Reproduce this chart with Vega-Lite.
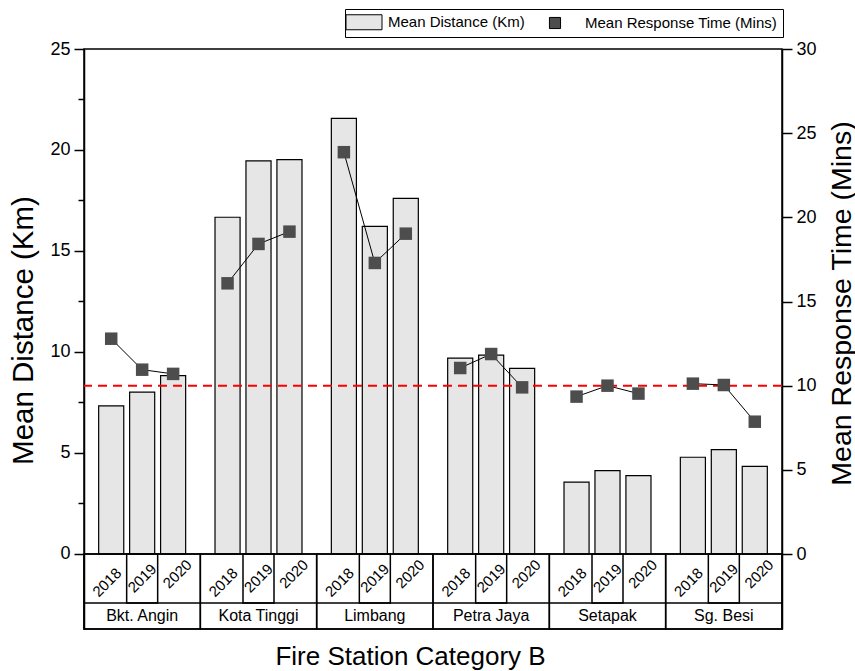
{
  "$schema": "https://vega.github.io/schema/vega-lite/v6.json",
  "width": 698,
  "height": 580,
  "autosize": {"type": "none"},
  "padding": {"left": 84, "top": 49, "right": 73, "bottom": 42},
  "background": "white",
  "config": {
    "font": "Liberation Sans",
    "view": {"stroke": "black", "strokeWidth": 1.5},
    "axis": {"grid": false, "domainColor": "black", "tickColor": "black", "labelColor": "black", "titleColor": "black", "titleFontWeight": "normal", "labelFont": "Liberation Sans", "titleFont": "Liberation Sans", "domainWidth": 1.5, "tickWidth": 1.5},
    "legend": {"labelFont": "Liberation Sans"}
  },
  "data": {
    "values": [
      {"station": "Bkt. Angin", "year": "2018", "distance": 7.33, "time": 12.79},
      {"station": "Bkt. Angin", "year": "2019", "distance": 8.01, "time": 10.95},
      {"station": "Bkt. Angin", "year": "2020", "distance": 8.83, "time": 10.70},
      {"station": "Kota Tinggi", "year": "2018", "distance": 16.67, "time": 16.08},
      {"station": "Kota Tinggi", "year": "2019", "distance": 19.46, "time": 18.42},
      {"station": "Kota Tinggi", "year": "2020", "distance": 19.52, "time": 19.15},
      {"station": "Limbang", "year": "2018", "distance": 21.57, "time": 23.87},
      {"station": "Limbang", "year": "2019", "distance": 16.22, "time": 17.29},
      {"station": "Limbang", "year": "2020", "distance": 17.61, "time": 19.03},
      {"station": "Petra Jaya", "year": "2018", "distance": 9.70, "time": 11.05},
      {"station": "Petra Jaya", "year": "2019", "distance": 9.85, "time": 11.88},
      {"station": "Petra Jaya", "year": "2020", "distance": 9.19, "time": 9.90},
      {"station": "Setapak", "year": "2018", "distance": 3.56, "time": 9.35},
      {"station": "Setapak", "year": "2019", "distance": 4.13, "time": 10.00},
      {"station": "Setapak", "year": "2020", "distance": 3.88, "time": 9.53},
      {"station": "Sg. Besi", "year": "2018", "distance": 4.79, "time": 10.12},
      {"station": "Sg. Besi", "year": "2019", "distance": 5.17, "time": 10.04},
      {"station": "Sg. Besi", "year": "2020", "distance": 4.34, "time": 7.86}
    ]
  },
  "layer": [
    {
      "layer": [
        {
          "mark": {"type": "bar", "stroke": "black", "strokeWidth": 1.2},
          "encoding": {
            "x": {"field": "station", "type": "nominal", "sort": null, "scale": {"paddingInner": 0, "paddingOuter": 0},
                  "axis": {"labels": false, "ticks": false, "domain": false, "title": "Fire Station Category B", "titleFontSize": 26,
                           "titleX": 326, "titleY": 35, "titleBaseline": "alphabetic", "titleAlign": "center"}},
            "xOffset": {"field": "year", "type": "nominal", "scale": {"paddingInner": 0.19, "paddingOuter": 0.474}},
            "y": {"field": "distance", "type": "quantitative", "scale": {"domain": [-3.713, 25], "nice": false, "zero": false},
                  "axis": {"orient": "left", "values": [0, 2.5, 5, 7.5, 10, 12.5, 15, 17.5, 20, 22.5, 25],
                           "labelExpr": "datum.value % 5 === 0 ? datum.label : ''",
                           "tickSize": {"condition": {"test": "datum.value % 5 === 0", "value": 10}, "value": 6},
                           "labelFontSize": 18, "labelPadding": 4, "title": "Mean Distance (Km)", "titleFontSize": 29.5,
                           "titleAngle": 270, "titleX": -52, "titleY": 281, "titleBaseline": "alphabetic", "titleAlign": "center"}},
            "y2": {"datum": 0},
            "color": {"datum": "Mean Distance (Km)", "type": "nominal",
                      "scale": {"domain": ["Mean Distance (Km)", "Mean Response Time (Mins)"], "range": ["#e6e6e6", "#4d4d4d"]},
                      "legend": {"orient": "none", "legendX": 261, "legendY": -40, "direction": "horizontal", "title": null,
                                 "symbolSize": 225, "labelFontSize": 15, "labelOffset": 22, "columnPadding": 22, "labelLimit": 400,
                                 "strokeColor": "black", "padding": 5, "symbolStrokeColor": "black", "symbolStrokeWidth": 1, "labelColor": "black"}}
          }
        },
        {
          "transform": [{"filter": "datum.year == '2018'"}],
          "mark": {"type": "rect", "fill": "transparent", "stroke": "black", "strokeWidth": 1.5},
          "encoding": {
            "x": {"field": "station", "type": "nominal", "sort": null},
            "y": {"datum": 0},
            "y2": {"datum": -3.713}
          }
        },
        {
          "transform": [{"filter": "datum.year == '2019'"}],
          "mark": {"type": "bar", "width": 31, "fill": "transparent", "stroke": "black", "strokeWidth": 1.5},
          "encoding": {
            "x": {"field": "station", "type": "nominal", "sort": null},
            "xOffset": {"field": "year", "type": "nominal"},
            "y": {"datum": 0},
            "y2": {"datum": -2.43}
          }
        },
        {
          "data": {"values": [{}]},
          "mark": {"type": "rule", "strokeWidth": 1.5, "color": "black"},
          "encoding": {"y": {"datum": -2.43}}
        },
        {
          "data": {"values": [{}]},
          "mark": {"type": "rule", "strokeWidth": 1.5, "color": "black"},
          "encoding": {"y": {"datum": 0}}
        },
        {
          "mark": {"type": "text", "angle": -45, "fontSize": 15, "color": "black", "align": "center", "baseline": "middle",
                   "dx": {"expr": "datum.year == '2018' ? -6 : (datum.year == '2020' ? 6 : 0)"}},
          "encoding": {
            "x": {"field": "station", "type": "nominal", "sort": null},
            "xOffset": {"field": "year", "type": "nominal"},
            "y": {"datum": -1.2},
            "text": {"field": "year"}
          }
        },
        {
          "transform": [{"filter": "datum.year == '2018'"}],
          "mark": {"type": "text", "fontSize": 16, "color": "black", "align": "center", "baseline": "middle"},
          "encoding": {
            "x": {"field": "station", "type": "nominal", "sort": null},
            "y": {"datum": -3.07},
            "text": {"field": "station"}
          }
        }
      ]
    },
    {
      "layer": [
        {
          "data": {"values": [{}]},
          "mark": {"type": "rule", "color": "#ff0000", "strokeWidth": 2, "strokeDash": [9, 6]},
          "encoding": {
            "y": {"datum": 10, "type": "quantitative", "scale": {"domain": [-4.455, 30], "nice": false, "zero": false},
                  "axis": {"orient": "right", "values": [0, 5, 10, 15, 20, 25, 30], "tickSize": 10, "labelFontSize": 18, "labelPadding": 4,
                           "title": "Mean Response Time (Mins)", "titleFontSize": 28.5,
                           "titleAngle": 270, "titleX": 68, "titleY": 254, "titleBaseline": "alphabetic", "titleAlign": "center"}}
          }
        },
        {
          "mark": {"type": "line", "color": "black", "strokeWidth": 1},
          "encoding": {
            "x": {"field": "station", "type": "nominal", "sort": null},
            "xOffset": {"field": "year", "type": "nominal"},
            "y": {"field": "time", "type": "quantitative"},
            "detail": {"field": "station"},
            "order": {"field": "year"}
          }
        },
        {
          "mark": {"type": "point", "filled": true, "opacity": 1, "size": 285},
          "encoding": {
            "x": {"field": "station", "type": "nominal", "sort": null},
            "xOffset": {"field": "year", "type": "nominal"},
            "y": {"field": "time", "type": "quantitative"},
            "color": {"datum": "Mean Response Time (Mins)", "type": "nominal"},
            "shape": {"datum": "Mean Response Time (Mins)", "type": "nominal",
                      "scale": {"domain": ["Mean Distance (Km)", "Mean Response Time (Mins)"],
                                "range": ["M-1.6,-1H3.2V1H-1.6Z", "M-0.74,-0.74H0.74V0.74H-0.74Z"]}}
          }
        }
      ]
    }
  ],
  "resolve": {"scale": {"y": "independent"}, "axis": {"y": "independent"}}
}
